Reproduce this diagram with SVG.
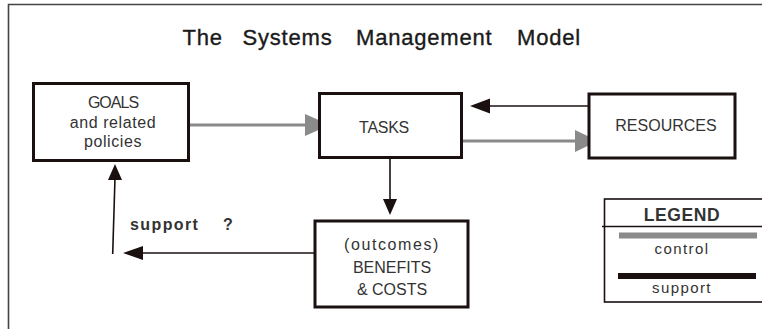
<svg xmlns="http://www.w3.org/2000/svg" width="762" height="329" viewBox="0 0 762 329">
<style>
.box{fill:#fff;stroke:#1a1010;stroke-width:3}
.lbl{font-family:"Liberation Sans",Arial,sans-serif;font-size:16px;fill:#333;text-anchor:middle}
.gray{stroke:#8a8a8a;stroke-width:3;fill:none}
.blk{stroke:#1a1010;stroke-width:1.6;fill:none}
.gh{fill:#8a8a8a}
.bh{fill:#1a1010}
.title{font-family:"Liberation Sans",Arial,sans-serif;font-size:22px;fill:#1a1a1a;stroke:#1a1a1a;stroke-width:0.35;letter-spacing:0.8px}
</style>
<rect width="762" height="329" fill="#fff"/>
<path d="M8.5 335 V4.5 H770" fill="none" stroke="#444" stroke-width="1.6"/>
<g id="title">
<text class="title" x="182.5" y="45">The</text>
<text class="title" x="242.5" y="45">Systems</text>
<text class="title" x="356" y="45">Management</text>
<text class="title" x="517" y="45">Model</text>
</g>
<g id="connectors">
<line class="gray" x1="189" y1="125" x2="308" y2="125"/>
<polygon class="gh" points="305,114 330,125 305,136"/>
<line class="blk" x1="588" y1="106" x2="486" y2="106"/>
<polygon class="bh" points="470,106 490,98.5 490,113.5"/>
<line class="gray" x1="462" y1="141" x2="578" y2="141"/>
<polygon class="gh" points="575,130 598,141 575,152"/>
<line class="blk" x1="390" y1="158" x2="390" y2="201"/>
<polygon class="bh" points="383,199 397,199 390,215"/>
<line class="blk" x1="314" y1="253" x2="140" y2="253"/>
<polygon class="bh" points="123,253 143,246 143,260"/>
<line class="blk" x1="112.7" y1="254" x2="115" y2="178"/>
<polygon class="bh" points="115,164 108,180 122,180"/>
</g>
<g id="goals">
<rect class="box" x="33.5" y="83.5" width="155" height="77"/>
<text class="lbl" x="113" y="108" letter-spacing="-1">GOALS</text>
<text class="lbl" x="113" y="128" letter-spacing="0.6">and related</text>
<text class="lbl" x="113" y="147" letter-spacing="0.6">policies</text>
</g>
<g id="tasks">
<rect class="box" x="319.5" y="93.5" width="142" height="64"/>
<text class="lbl" x="384" y="133" letter-spacing="-0.3">TASKS</text>
</g>
<g id="resources">
<rect class="box" x="589" y="94" width="146" height="64"/>
<text class="lbl" x="666" y="131">RESOURCES</text>
</g>
<g id="benefits">
<rect class="box" x="315" y="221" width="153" height="86"/>
<text class="lbl" x="392" y="250" letter-spacing="1.6">(outcomes)</text>
<text class="lbl" x="392" y="273" font-size="17">BENEFITS</text>
<text class="lbl" x="392" y="295" font-size="17">&amp; COSTS</text>
</g>
<g id="support-label">
<text x="130" y="230" font-family="Liberation Sans,Arial,sans-serif" font-size="16" font-weight="bold" fill="#333" letter-spacing="1.4">support</text>
<text x="223" y="230" font-family="Liberation Sans,Arial,sans-serif" font-size="16" font-weight="bold" fill="#333">?</text>
</g>
<g id="legend">
<rect x="604.5" y="199" width="170" height="103" fill="#fff" stroke="#1a1010" stroke-width="1.6"/>
<line x1="602" y1="226.5" x2="770" y2="226.5" stroke="#1a1010" stroke-width="1.6"/>
<text x="682" y="221" font-family="Liberation Sans,Arial,sans-serif" font-size="17.5" font-weight="bold" fill="#333" text-anchor="middle" letter-spacing="0.6">LEGEND</text>
<rect x="619" y="232.5" width="138" height="6" fill="#8a8a8a"/>
<text x="682" y="254" font-family="Liberation Sans,Arial,sans-serif" font-size="15" fill="#333" text-anchor="middle" letter-spacing="1.4">control</text>
<rect x="618" y="273" width="138" height="6" fill="#1a1010"/>
<text x="682" y="293" font-family="Liberation Sans,Arial,sans-serif" font-size="15" fill="#333" text-anchor="middle" letter-spacing="1.4">support</text>
</g>
</svg>
